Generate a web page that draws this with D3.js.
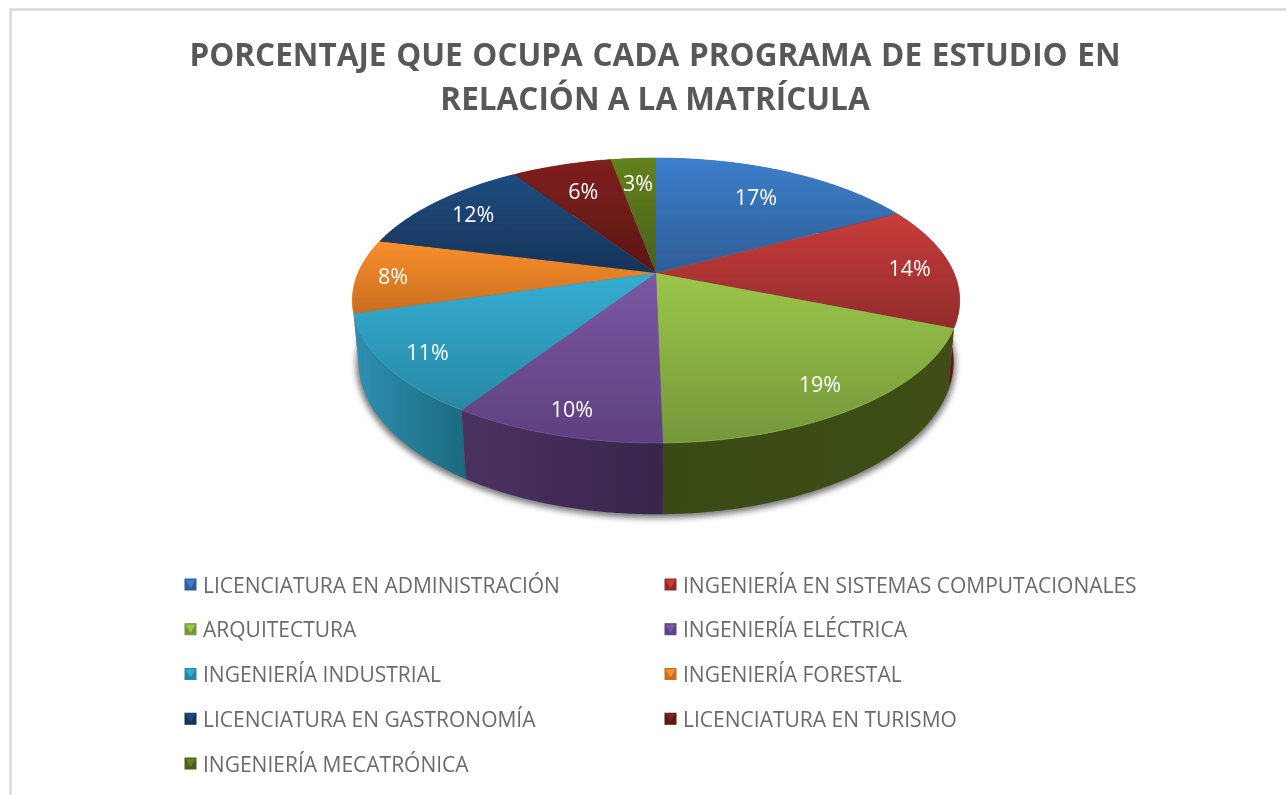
<!DOCTYPE html>
<html>
<head>
<meta charset="utf-8">
<script src="https://d3js.org/d3.v7.min.js"></script>
<style>
    html, body { margin: 0; padding: 0; background: #fff; overflow: hidden; }
    svg { display: block; }
    text { font-family: "Open Sans", "Noto Sans", sans-serif; }
</style>
</head>
<body>
<script>
const titleLines = ["PORCENTAJE QUE OCUPA CADA PROGRAMA DE ESTUDIO EN", "RELACIÓN A LA MATRÍCULA"]

const programs = [
    "LICENCIATURA EN ADMINISTRACIÓN",
    "INGENIERÍA EN SISTEMAS COMPUTACIONALES",
    "ARQUITECTURA",
    "INGENIERÍA ELÉCTRICA",
    "INGENIERÍA INDUSTRIAL",
    "INGENIERÍA FORESTAL",
    "LICENCIATURA EN GASTRONOMÍA",
    "LICENCIATURA EN TURISMO",
    "INGENIERÍA MECATRÓNICA"
]

const shares = [17.2, 13.9, 18.6, 9.5, 11.3, 8.4, 11.8, 6.4, 2.9]

const topColors = [
    ["#3c7ecb", "#2e5e96"], ["#c93c3a", "#922c2b"], ["#9cc64a", "#74973a"],
    ["#7c58a4", "#5e4080"], ["#33aed3", "#2888a5"], ["#fb8f2c", "#c86e20"],
    ["#1f4c80", "#17345a"], ["#7f201d", "#5c1614"], ["#62821f", "#4a5f1a"]
]

const wallColors = [
    ["#244a78", "#1f3f66"], ["#5c1715", "#6e1c1a"], ["#3f4e18", "#3a4a18"],
    ["#38264b", "#4b3162"], ["#1c6a80", "#2f90b2"], ["#a85c1a", "#c06a1c"],
    ["#15304f", "#15304f"], ["#4c1210", "#4c1210"], ["#3c4e14", "#3c4e14"]
]

// how far out along its slice each percent label sits
const labelRadius = [.73, .86, .84, .86, .86, .88, .82, .74, .76]

const width = 1286,
    height = 795,
    centerX = 656,
    tilt = -0.193


// circle in the pie's own plane -> screen, the front of the pie is closer so it looks bigger
function project(angle, radius, plane) {
    let u = radius * Math.sin(angle),
        v = -radius * Math.cos(angle),
        w = 1 + tilt * v

    return [centerX + plane.spread * u / w, (plane.middle + plane.drop * v) / w]
}

function arcPoints(startAngle, endAngle, plane) {
    let steps = Math.max(2, Math.ceil((endAngle - startAngle) / 0.01))

    return d3.range(steps + 1).map(function(i) {
        return project(startAngle + (endAngle - startAngle) * i / steps, 1, plane)
    })
}

const topPlane = {spread: 298, middle: 273, drop: 84.5},
    bottomPlane = {spread: 292, middle: 332, drop: 83}

const svg = d3.select("body").append("svg")
    .attr("width", width)
    .attr("height", height)

const defs = svg.append("defs")

defs.append("filter")
    .attr("id", "soft-shadow")
    .attr("x", "-10%").attr("y", "-10%").attr("width", "120%").attr("height", "120%")
    .append("feGaussianBlur")
    .attr("stdDeviation", 3)

// the reference is a slightly soft screenshot
defs.append("filter")
    .attr("id", "soft-edge")
    .attr("x", "-5%").attr("y", "-5%").attr("width", "110%").attr("height", "110%")
    .append("feGaussianBlur")
    .attr("stdDeviation", 0.5)

const page = svg.append("g").attr("filter", "url(#soft-edge)")

// frame of the chart area, only top and left are in view
page.append("path")
    .attr("d", d3.line()([[10.5, height + 5], [10.5, 9.5], [width + 5, 9.5]]))
    .attr("fill", "none")
    .attr("stroke", "#d9d9d9")
    .attr("stroke-width", 2.5)

page.selectAll("text.title")
    .data(titleLines)
    .join("text")
    .attr("class", "title")
    .attr("x", centerX - 1)
    .attr("y", (d, i) => 66 + i * 44)
    .attr("text-anchor", "middle")
    .attr("font-size", 31.5)
    .attr("font-weight", 700)
    .attr("word-spacing", (d, i) => i === 0 ? 1.5 : 0)
    .attr("fill", "#595959")
    .text(d => d)

const pie = d3.pie().sort(null).value(d => d)
const slices = pie(shares).map(function(slice, i) {
    slice.name = programs[i]
    slice.index = i
    slice.mid = (slice.startAngle + slice.endAngle) / 2
    return slice
})

const line = d3.line()
const chart = page.append("g")

// soft shadow round the lower rim
chart.append("path")
    .attr("d", line(arcPoints(0, 2 * Math.PI, {spread: 294, middle: 335, drop: 83})) + "Z")
    .attr("fill", "#000")
    .attr("opacity", 0.55)
    .attr("filter", "url(#soft-shadow)")

// side wall, back slices first so the front ones overlap them
const wallOrder = slices.slice().sort((a, b) => Math.abs(b.mid - Math.PI) - Math.abs(a.mid - Math.PI))

wallOrder.forEach(function(slice) {
    let top = arcPoints(slice.startAngle, slice.endAngle, topPlane),
        bottom = arcPoints(slice.startAngle, slice.endAngle, bottomPlane),
        xs = top.concat(bottom).map(d => d[0]),
        gradient = defs.append("linearGradient")
            .attr("id", "wall-" + slice.index)
            .attr("gradientUnits", "userSpaceOnUse")
            .attr("x1", d3.min(xs)).attr("x2", d3.max(xs))
            .attr("y1", 0).attr("y2", 0)

    gradient.append("stop").attr("offset", 0).attr("stop-color", wallColors[slice.index][1])
    gradient.append("stop").attr("offset", 1).attr("stop-color", wallColors[slice.index][0])

    chart.append("path")
        .attr("d", line(top.concat(bottom.reverse())) + "Z")
        .attr("fill", "url(#wall-" + slice.index + ")")
})

// top face
slices.forEach(function(slice) {
    let rim = arcPoints(slice.startAngle, slice.endAngle, topPlane),
        hub = project(0, 0, topPlane),
        ys = rim.map(d => d[1]).concat(hub[1]),
        gradient = defs.append("linearGradient")
            .attr("id", "face-" + slice.index)
            .attr("gradientUnits", "userSpaceOnUse")
            .attr("x1", 0).attr("x2", 0)
            .attr("y1", d3.min(ys)).attr("y2", d3.max(ys))

    gradient.append("stop").attr("offset", 0).attr("stop-color", topColors[slice.index][0])
    gradient.append("stop").attr("offset", 1).attr("stop-color", topColors[slice.index][1])

    chart.append("path")
        .attr("d", line([hub].concat(rim)) + "Z")
        .attr("fill", "url(#face-" + slice.index + ")")

    // lighter bevel along the rim
    chart.append("path")
        .attr("d", line(rim))
        .attr("fill", "none")
        .attr("stroke", topColors[slice.index][0])
        .attr("stroke-width", 0.8)
        .attr("stroke-opacity", 0.7)
})

chart.selectAll("text.percent")
    .data(slices)
    .join("text")
    .attr("class", "percent")
    .attr("x", d => project(d.mid, labelRadius[d.index], topPlane)[0])
    .attr("y", d => project(d.mid, labelRadius[d.index], topPlane)[1] + 9)
    .attr("text-anchor", "middle")
    .attr("font-size", 21.5)
    .attr("fill", "#fff")
    .text(d => Math.round(d.value) + "%")

// legend, two columns filled row by row
const legendX = d3.scalePoint().domain([0, 1]).range([185, 665])
const legendY = d3.scalePoint().domain(d3.range(5)).range([585, 764])

const legend = page.selectAll("g.legend")
    .data(slices)
    .join("g")
    .attr("class", "legend")
    .attr("transform", d => `translate(${legendX(d.index % 2)},${legendY(Math.floor(d.index / 2))})`)

legend.append("rect")
    .attr("x", 0)
    .attr("y", -6)
    .attr("width", 11)
    .attr("height", 11)
    .attr("fill", d => topColors[d.index][1])
    .attr("stroke", d => topColors[d.index][1])

// the bevelled marker has a lighter wedge on top
legend.append("path")
    .attr("d", d3.symbol(d3.symbolTriangle, 42))
    .attr("transform", "translate(5.5,-2.5) rotate(180)")
    .attr("fill", d => topColors[d.index][0])

legend.append("text")
    .attr("x", 18)
    .attr("y", 7.5)
    .attr("font-size", 21)
    .attr("fill", "#6b6b6b")
    .text(d => d.name)
</script>
</body>
</html>
